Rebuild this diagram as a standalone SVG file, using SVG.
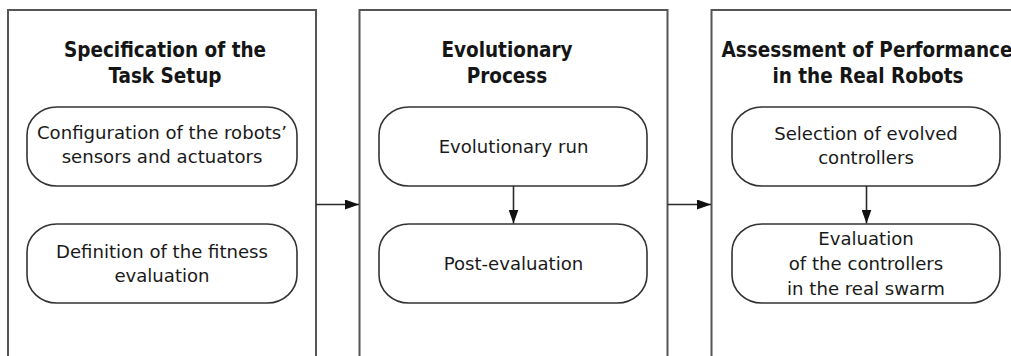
<svg xmlns="http://www.w3.org/2000/svg" width="1011" height="356" viewBox="0 0 1011 356">
  <style>
    .panel { fill: #ffffff; stroke: #555555; stroke-width: 2; }
    .step { fill: #ffffff; stroke: #333333; stroke-width: 1.6; }
    .title { font-family: "DejaVu Sans", "Liberation Sans", sans-serif; font-weight: bold; font-stretch: condensed; font-size: 20.5px; fill: #151515; text-anchor: middle; }
    .label { font-family: "DejaVu Sans", "Liberation Sans", sans-serif; font-size: 18.1px; fill: #1a1a1a; text-anchor: middle; }
    .link { stroke: #2a2a2a; stroke-width: 1.6; fill: none; }
  </style>
  <defs>
    <marker id="head" viewBox="0 0 14 10" refX="14" refY="5" markerWidth="14" markerHeight="10" markerUnits="userSpaceOnUse" orient="auto">
      <path d="M0,0 L14,5 L0,10 Z" fill="#111111"/>
    </marker>
  </defs>
  <rect width="1011" height="356" fill="#ffffff"/>

  <!-- Stage 1 -->
  <g id="stage-task-setup">
    <rect class="panel" x="8" y="10" width="308" height="360"/>
    <text class="title" x="165" y="57">Specification of the</text>
    <text class="title" x="165" y="83">Task Setup</text>
  </g>
  <g id="node-configuration">
    <rect class="step" x="27" y="107" width="270" height="79" rx="30" ry="28"/>
    <text class="label" x="162" y="139">Configuration of the robots’</text>
    <text class="label" x="162" y="163">sensors and actuators</text>
  </g>
  <g id="node-fitness">
    <rect class="step" x="27" y="224" width="270" height="79" rx="30" ry="28"/>
    <text class="label" x="162" y="258">Definition of the fitness</text>
    <text class="label" x="162" y="282">evaluation</text>
  </g>

  <!-- Stage 2 -->
  <g id="stage-evolution">
    <rect class="panel" x="359.5" y="10" width="308" height="360"/>
    <text class="title" x="507" y="57">Evolutionary</text>
    <text class="title" x="507" y="83">Process</text>
  </g>
  <g id="node-evolutionary-run">
    <rect class="step" x="379" y="107" width="268" height="79" rx="30" ry="28"/>
    <text class="label" x="513.5" y="153">Evolutionary run</text>
  </g>
  <g id="node-post-evaluation">
    <rect class="step" x="379" y="224" width="268" height="79" rx="30" ry="28"/>
    <text class="label" x="513.5" y="270">Post-evaluation</text>
  </g>

  <!-- Stage 3 -->
  <g id="stage-real-robots">
    <rect class="panel" x="711.5" y="10" width="308" height="360"/>
    <text class="title" x="867" y="57">Assessment of Performance</text>
    <text class="title" x="868" y="83">in the Real Robots</text>
  </g>
  <g id="node-selection">
    <rect class="step" x="732" y="107" width="268" height="79" rx="30" ry="28"/>
    <text class="label" x="866" y="140">Selection of evolved</text>
    <text class="label" x="866" y="164">controllers</text>
  </g>
  <g id="node-real-swarm">
    <rect class="step" x="732" y="224" width="268" height="79" rx="30" ry="28"/>
    <text class="label" x="866" y="245">Evaluation</text>
    <text class="label" x="866" y="270">of the controllers</text>
    <text class="label" x="866" y="295">in the real swarm</text>
  </g>

  <!-- Connectors -->
  <g id="connectors">
    <line class="link" x1="316" y1="204.5" x2="359" y2="204.5" marker-end="url(#head)"/>
    <line class="link" x1="667.5" y1="204.5" x2="711" y2="204.5" marker-end="url(#head)"/>
    <line class="link" x1="513.5" y1="186" x2="513.5" y2="223.5" marker-end="url(#head)"/>
    <line class="link" x1="866.5" y1="186" x2="866.5" y2="223.5" marker-end="url(#head)"/>
  </g>
</svg>
